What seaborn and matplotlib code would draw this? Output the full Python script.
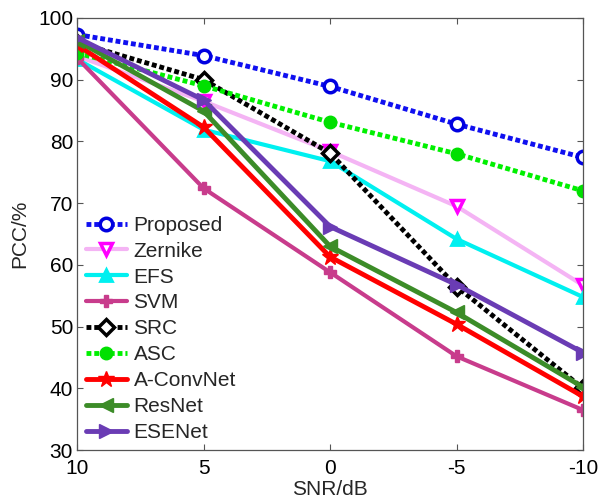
import matplotlib
matplotlib.use("Agg")
import matplotlib.pyplot as plt
import seaborn as sns
import pandas as pd

snr = [10, 5, 0, -5, -10]
proposed = [97.3, 93.9, 88.9, 82.8, 77.4]
zernike = [93.8, 86.5, 78.4, 69.5, 56.7]
efs = [93.3, 81.9, 76.8, 64.2, 54.8]
svm = [93.5, 72.4, 58.8, 45.2, 36.5]
src = [96.0, 90.0, 78.1, 56.5, 40.0]
asc = [94.3, 89.0, 83.1, 78.0, 72.0]
aconvnet = [95.6, 82.3, 61.3, 50.4, 38.7]
resnet = [96.3, 84.9, 63.0, 52.3, 40.2]
esenet = [96.8, 86.7, 66.2, 56.8, 45.8]

names = ["Proposed", "Zernike", "EFS", "SVM", "SRC", "ASC", "A-ConvNet", "ResNet", "ESENet"]
series = [proposed, zernike, efs, svm, src, asc, aconvnet, resnet, esenet]

styles = {
    "Proposed": dict(color="#1010F0", ls=(0, (1, 0.6)), marker="o", mfc="white", mec="#0000E0", ms=9, lw=3.5, mew=2.5),
    "Zernike": dict(color="#F4B4F4", ls="-", marker="v", mfc="white", mec="#FF00FF", ms=9, lw=3, mew=2.5),
    "EFS": dict(color="#00F0F0", ls="-", marker="^", mfc="#00F0F0", mec="#00F0F0", ms=9, lw=3, mew=2),
    "SVM": dict(color="#C83C8C", ls="-", marker="P", mfc="#C83C8C", mec="#C83C8C", ms=8, lw=3, mew=1),
    "SRC": dict(color="black", ls=(0, (1, 0.6)), marker="D", mfc="white", mec="black", ms=8, lw=3.5, mew=2.5),
    "ASC": dict(color="#00F000", ls=(0, (1, 0.6)), marker="o", mfc="#00E000", mec="#00E000", ms=9, lw=3.5, mew=1),
    "A-ConvNet": dict(color="#FF0000", ls="-", marker="*", mfc="#FF0000", mec="#FF0000", ms=12, lw=3.5, mew=1),
    "ResNet": dict(color="#3C8C28", ls="-", marker="<", mfc="#3C8C28", mec="#3C8C28", ms=10, lw=3.5, mew=1),
    "ESENet": dict(color="#6A3CB4", ls="-", marker=">", mfc="#6A3CB4", mec="#6A3CB4", ms=10, lw=3.5, mew=1),
}

sns.set_theme(style="white")
plt.rcParams["font.family"] = ["Liberation Sans", "DejaVu Sans"]

fig = plt.figure(figsize=(6.08, 4.98), dpi=100)
ax = fig.add_axes([0.127, 0.096, 0.832, 0.868])

for name, vals in zip(names, series):
    df = pd.DataFrame({"SNR": snr, "PCC": vals})
    st = styles[name]
    sns.lineplot(data=df, x="SNR", y="PCC", ax=ax, label=name, color=st["color"],
                 linestyle=st["ls"], linewidth=st["lw"], marker=st["marker"],
                 markersize=st["ms"], markerfacecolor=st["mfc"], markeredgecolor=st["mec"],
                 markeredgewidth=st["mew"], sort=False)

ax.set_xlim(10, -10)
ax.set_ylim(30, 100)
ax.set_xticks([10, 5, 0, -5, -10])
ax.set_xticklabels(["10", "5", "0", "-5", "-10"])
ax.set_yticks(range(30, 101, 10))
ax.tick_params(axis="both", labelsize=15, direction="in", length=4, width=0.8,
               top=True, right=True, bottom=True, left=True, colors="#555555", labelcolor="black")
ax.tick_params(axis="x", pad=6)
ax.tick_params(axis="y", pad=3)
for sp in ax.spines.values():
    sp.set_color("#555555")
    sp.set_linewidth(0.9)
ax.set_xlabel("SNR/dB", fontsize=15, labelpad=2)
ax.set_ylabel("PCC/%", fontsize=15, labelpad=6)

leg = ax.legend(loc="lower left", frameon=False, fontsize=15, handlelength=2.0,
                labelspacing=0.33, borderaxespad=0.2, handletextpad=0.3,
                borderpad=0.2, bbox_to_anchor=(0.0, 0.0))

fig.savefig("out.png", dpi=100)
